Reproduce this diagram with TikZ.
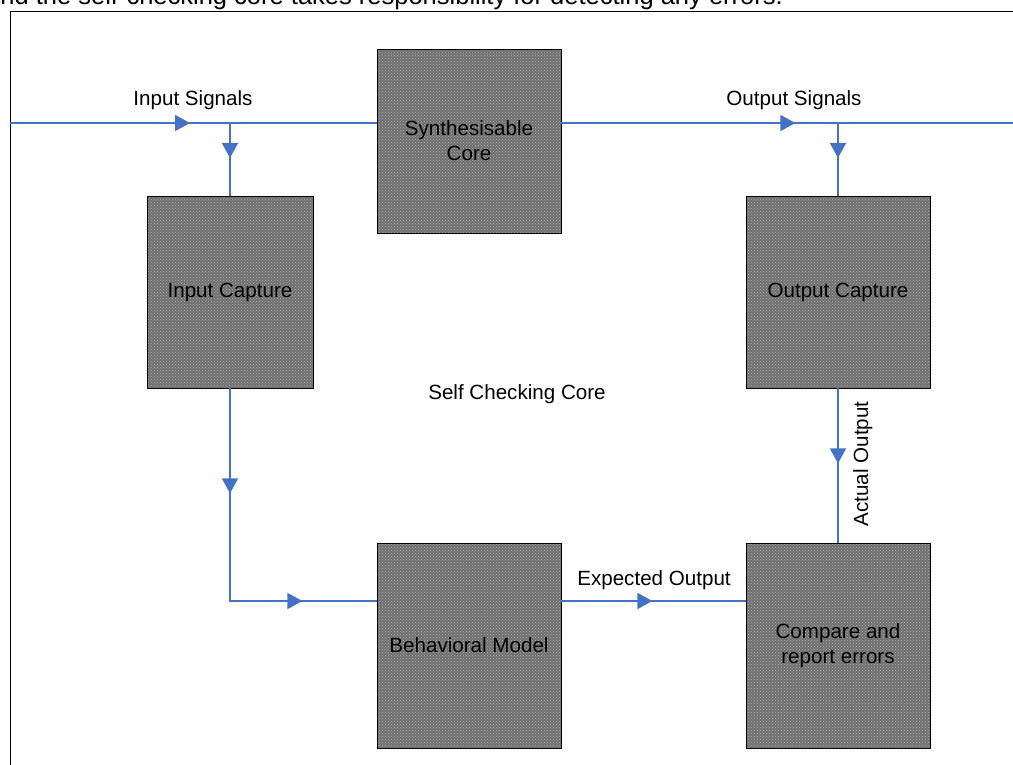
\documentclass[tikz,border=0pt]{standalone}
\usepackage{fontspec}
\setmainfont{Liberation Sans}
\usetikzlibrary{arrows.meta,decorations.markings,patterns}
\definecolor{lineblue}{RGB}{68,114,196}
\definecolor{boxgray}{RGB}{112,112,112}
\definecolor{dotgray}{RGB}{175,175,175}
\begin{document}
\begin{tikzpicture}[x=1pt,y=-1pt,
  blk/.style={draw=black, line width=0.8pt, preaction={fill=boxgray},
    pattern=crosshatch dots, pattern color=dotgray,
    inner sep=0pt, align=center, font=\fontsize{20.6}{25}\selectfont},
  lbl/.style={font=\fontsize{20.6}{25}\selectfont, inner sep=0pt},
  conn/.style={draw=lineblue, line width=1.6pt},
  midarrow/.style={postaction={decorate,decoration={markings,
    mark=at position #1 with {\arrow[lineblue]{Triangle[length=15pt,width=16pt]}}}}},
  midarrows/.style 2 args={postaction={decorate,decoration={markings,
    mark=at position #1 with {\arrow[lineblue]{Triangle[length=15pt,width=16pt]}},
    mark=at position #2 with {\arrow[lineblue]{Triangle[length=15pt,width=16pt]}}}}}
]
\useasboundingbox (0,0) rectangle (1013,765);
\clip (0,0) rectangle (1013,765);
\fill[white] (0,0) rectangle (1013,765);

% cut-off caption text above the frame
\node[anchor=base east, inner sep=0pt, font=\fontsize{25.5}{30}\selectfont] (caption) at (783,5)
  {and the self-checking core takes responsibility for detecting any errors.};

% frame
\draw[line width=1pt] (10,12) rectangle (1040,800);

% blocks
\node[blk, minimum width=184pt, minimum height=184pt] (synth) at (469,141) {Synthesisable\\Core};
\node[blk, minimum width=166pt, minimum height=192pt] (incap) at (230,292) {Input Capture};
\node[blk, minimum width=184pt, minimum height=192pt] (outcap) at (838,292) {Output Capture};
\node[blk, minimum width=184pt, minimum height=205pt] (beh) at (469,645.5) {Behavioral Model};
\node[blk, minimum width=184pt, minimum height=205pt] (cmp) at (838,645.5) {Compare and\\report errors};

% coordinates
\coordinate (inL) at (10,123);
\coordinate (inJ) at (230,123);
\coordinate (outR) at (1013,123);
\coordinate (outJ) at (838,123);
\coordinate (turn) at (230,601);

% connectors
\path[conn, midarrow=180pt] (inL) -- (inL -| synth.west);
\path[conn, midarrow=35pt] (inJ) -- (incap.north);
\path[conn, midarrow=234pt] (outR -| synth.east) -- (outR);
\path[conn, midarrow=35pt] (outJ) -- (outcap.north);
\path[conn, midarrows={105pt}{285pt}] (incap.south) -- (turn) -- (turn -| beh.west);
\path[conn, midarrow=91pt] (turn -| beh.east) -- (turn -| cmp.west);
\path[conn, midarrow=75pt] (outcap.south) -- (cmp.north);

% labels
\node[lbl, anchor=base] (lin) at (193,106) {Input Signals};
\node[lbl, anchor=base] (lout) at (794,106) {Output Signals};
\node[lbl, anchor=base] (lself) at (517,399) {Self Checking Core};
\node[lbl, anchor=base] (lexp) at (654,585) {Expected Output};
\node[lbl, anchor=base, rotate=90] (lact) at (868,464) {Actual Output};
\end{tikzpicture}
\end{document}
